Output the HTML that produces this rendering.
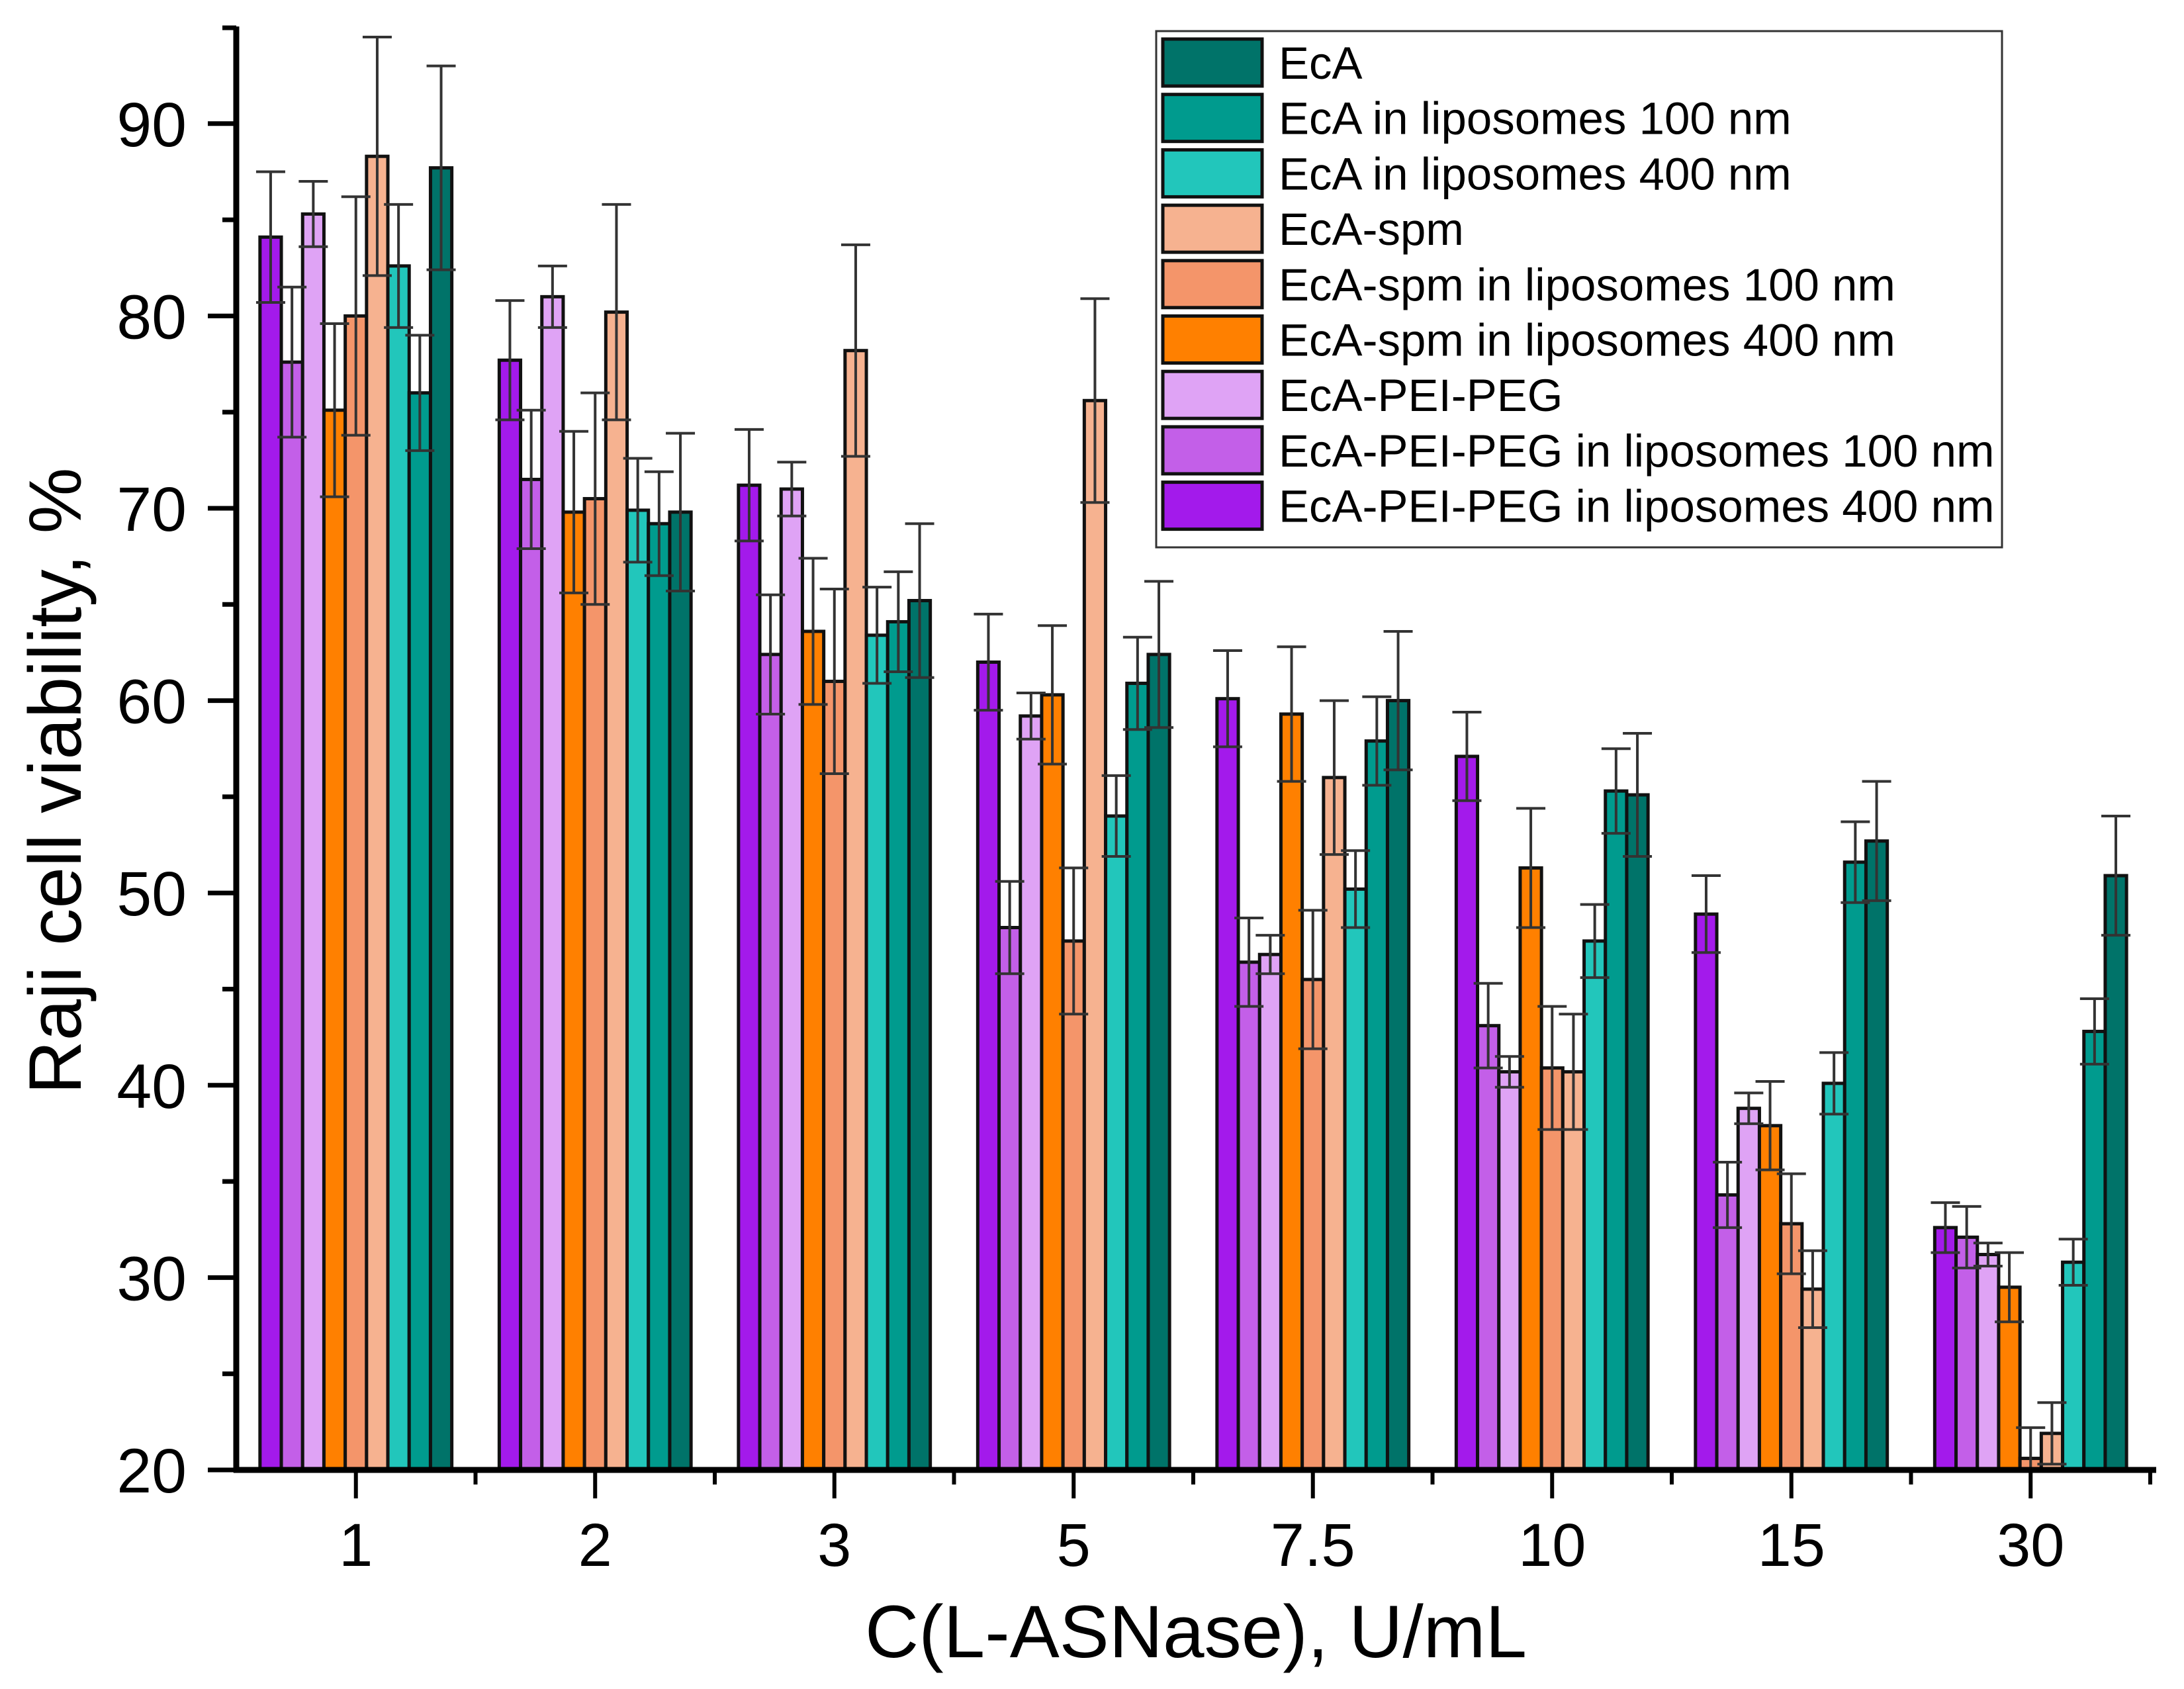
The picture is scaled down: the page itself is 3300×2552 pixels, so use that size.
<!DOCTYPE html>
<html><head><meta charset="utf-8"><style>
html,body{margin:0;padding:0;background:#fff}
svg{display:block}
text{font-family:"Liberation Sans",Arial,sans-serif;fill:#000}
</style></head><body>
<svg id="chart" xmlns="http://www.w3.org/2000/svg" width="3300" height="2552" viewBox="0 0 3300 2552">
<rect width="3300" height="2552" fill="#fff"/>
<g id="bars"></g>
<g id="axes"></g>
<g id="legend"></g>
<text transform="translate(122,1180) rotate(-90)" text-anchor="middle" font-size="112" textLength="947" lengthAdjust="spacingAndGlyphs">Raji cell viability, %</text>
<text x="1807" y="2504" text-anchor="middle" font-size="112" textLength="1000" lengthAdjust="spacingAndGlyphs">C(L-ASNase), U/mL</text>
</svg>
<script>
const categories = ["1","2","3","5","7.5","10","15","30"];
const seriesNames = ["EcA-PEI-PEG in liposomes 400 nm","EcA-PEI-PEG in liposomes 100 nm","EcA-PEI-PEG","EcA-spm  in liposomes 400 nm","EcA-spm in liposomes 100 nm","EcA-spm","EcA in liposomes 400 nm","EcA in liposomes 100 nm","EcA"];
const seriesColors = ["#a31aeb","#c35fe8","#dfa3f5","#ff8000","#f4956a","#f6b290","#22c6bb","#009b8e","#007369"];
const pegLip400 = [84.1,77.7,71.2,62.0,60.1,57.1,48.9,32.6];
const pegLip100 = [77.6,71.5,62.4,48.2,46.4,43.1,34.3,32.1];
const peg       = [85.3,81.0,71.0,59.2,46.8,40.7,38.8,31.2];
const spmLip400 = [75.1,69.8,63.6,60.3,59.3,51.3,37.9,29.5];
const spmLip100 = [80.0,70.5,61.0,47.5,45.5,40.9,32.8,20.6];
const spm       = [88.3,80.2,78.2,75.6,56.0,40.7,29.4,21.9];
const ecaLip400 = [82.6,69.9,63.4,54.0,50.2,47.5,40.1,30.8];
const ecaLip100 = [76.0,69.2,64.1,60.9,57.9,55.3,51.6,42.8];
const eca       = [87.7,69.8,65.2,62.4,60.0,55.1,52.7,50.9];
const errPegLip400 = [3.4,3.1,2.9,2.5,2.5,2.3,2.0,1.3];
const errPegLip100 = [3.9,3.6,3.1,2.4,2.3,2.2,1.7,1.6];
const errPeg       = [1.7,1.6,1.4,1.2,1.0,0.8,0.8,0.6];
const errSpmLip400 = [4.5,4.2,3.8,3.6,3.5,3.1,2.3,1.8];
const errSpmLip100 = [6.2,5.5,4.8,3.8,3.6,3.2,2.6,1.6];
const errSpm       = [6.2,5.6,5.5,5.3,4.0,3.0,2.0,1.6];
const errEcaLip400 = [3.2,2.7,2.5,2.1,2.0,1.9,1.6,1.2];
const errEcaLip100 = [3.0,2.7,2.6,2.4,2.3,2.2,2.1,1.7];
const errEca       = [5.3,4.1,4.0,3.8,3.6,3.2,3.1,3.1];
const yTicks = [20,30,40,50,60,70,80,90];

const series = [pegLip400,pegLip100,peg,spmLip400,spmLip100,spm,ecaLip400,ecaLip100,eca];
const errors = [errPegLip400,errPegLip100,errPeg,errSpmLip400,errSpmLip100,errSpm,errEcaLip400,errEcaLip100,errEca];

const NS="http://www.w3.org/2000/svg";
const X0=357, GW=361.5, Y20=2221, PER10=290.6, BW=32.2;
function yScale(v){return Y20-(Math.max(v,20)-20)*PER10/10;}
function xCenter(i){return X0+(i+0.5)*GW;}
function mk(tag,attrs,parent){const e=document.createElementNS(NS,tag);for(const k in attrs)e.setAttribute(k,attrs[k]);parent.appendChild(e);return e;}

const gb=document.getElementById('bars');
categories.forEach((c,i)=>{
  series.forEach((s,j)=>{
    const x=xCenter(i)-4.5*BW+j*BW, v=s[i], y=yScale(v);
    const r=mk('rect',{x:x,y:y,width:BW,height:Y20-y,fill:seriesColors[j],stroke:'#111','stroke-width':5},gb);
    
    
  });
});
categories.forEach((c,i)=>{
  series.forEach((s,j)=>{
    const cx=xCenter(i)-4.5*BW+(j+0.5)*BW, v=s[i], e=errors[j][i];
    const g=mk('g',{stroke:'#333','stroke-width':4},gb);
    
    
    mk('line',{x1:cx,x2:cx,y1:yScale(v+e),y2:yScale(v-e)},g);
    mk('line',{x1:cx-22,x2:cx+22,y1:yScale(v+e),y2:yScale(v+e)},g);
    if(v-e>20) mk('line',{x1:cx-22,x2:cx+22,y1:yScale(v-e),y2:yScale(v-e)},g);
  });
});

const ga=document.getElementById('axes');
mk('line',{x1:X0,x2:X0,y1:40,y2:Y20+4,stroke:'#000','stroke-width':9},ga);
mk('line',{x1:X0-4,x2:3258,y1:Y20,y2:Y20,stroke:'#000','stroke-width':9},ga);
mk('line',{x1:336,x2:X0,y1:42,y2:42,stroke:'#000','stroke-width':7},ga);
yTicks.forEach(t=>{
  const y=yScale(t);
  mk('line',{x1:314,x2:X0,y1:y,y2:y,stroke:'#000','stroke-width':7},ga);
  const tl=mk('text',{x:282,y:y+34,'text-anchor':'end','font-size':95},ga);
  tl.textContent=t;
  
  
  if(t<90){const ym=yScale(t+5);mk('line',{x1:336,x2:X0,y1:ym,y2:ym,stroke:'#000','stroke-width':7},ga);}
});
categories.forEach((c,i)=>{
  const x=xCenter(i);
  mk('line',{x1:x,x2:x,y1:Y20,y2:2264,stroke:'#000','stroke-width':6},ga);
  const xm=X0+(i+1)*GW;
  mk('line',{x1:xm,x2:xm,y1:Y20,y2:2243,stroke:'#000','stroke-width':6},ga);
  const tl=mk('text',{x:x,y:2366,'text-anchor':'middle','font-size':92},ga);
  tl.textContent=c;
  
  
});

const gl=document.getElementById('legend');
const box=mk('rect',{x:1747,y:47,width:1278,height:780,fill:'#fff',stroke:'#333','stroke-width':3},gl);


for(let k=0;k<9;k++){
  const j=8-k, y=59+k*83.7;
  const g=mk('g',{},gl);
  
  
  mk('rect',{x:1757,y:y,width:150,height:71,fill:seriesColors[j],stroke:'#111','stroke-width':5},g);
  const t=mk('text',{x:1932,y:y+60,'font-size':69},g);
  t.textContent=seriesNames[j];
}
</script>
</body></html>
